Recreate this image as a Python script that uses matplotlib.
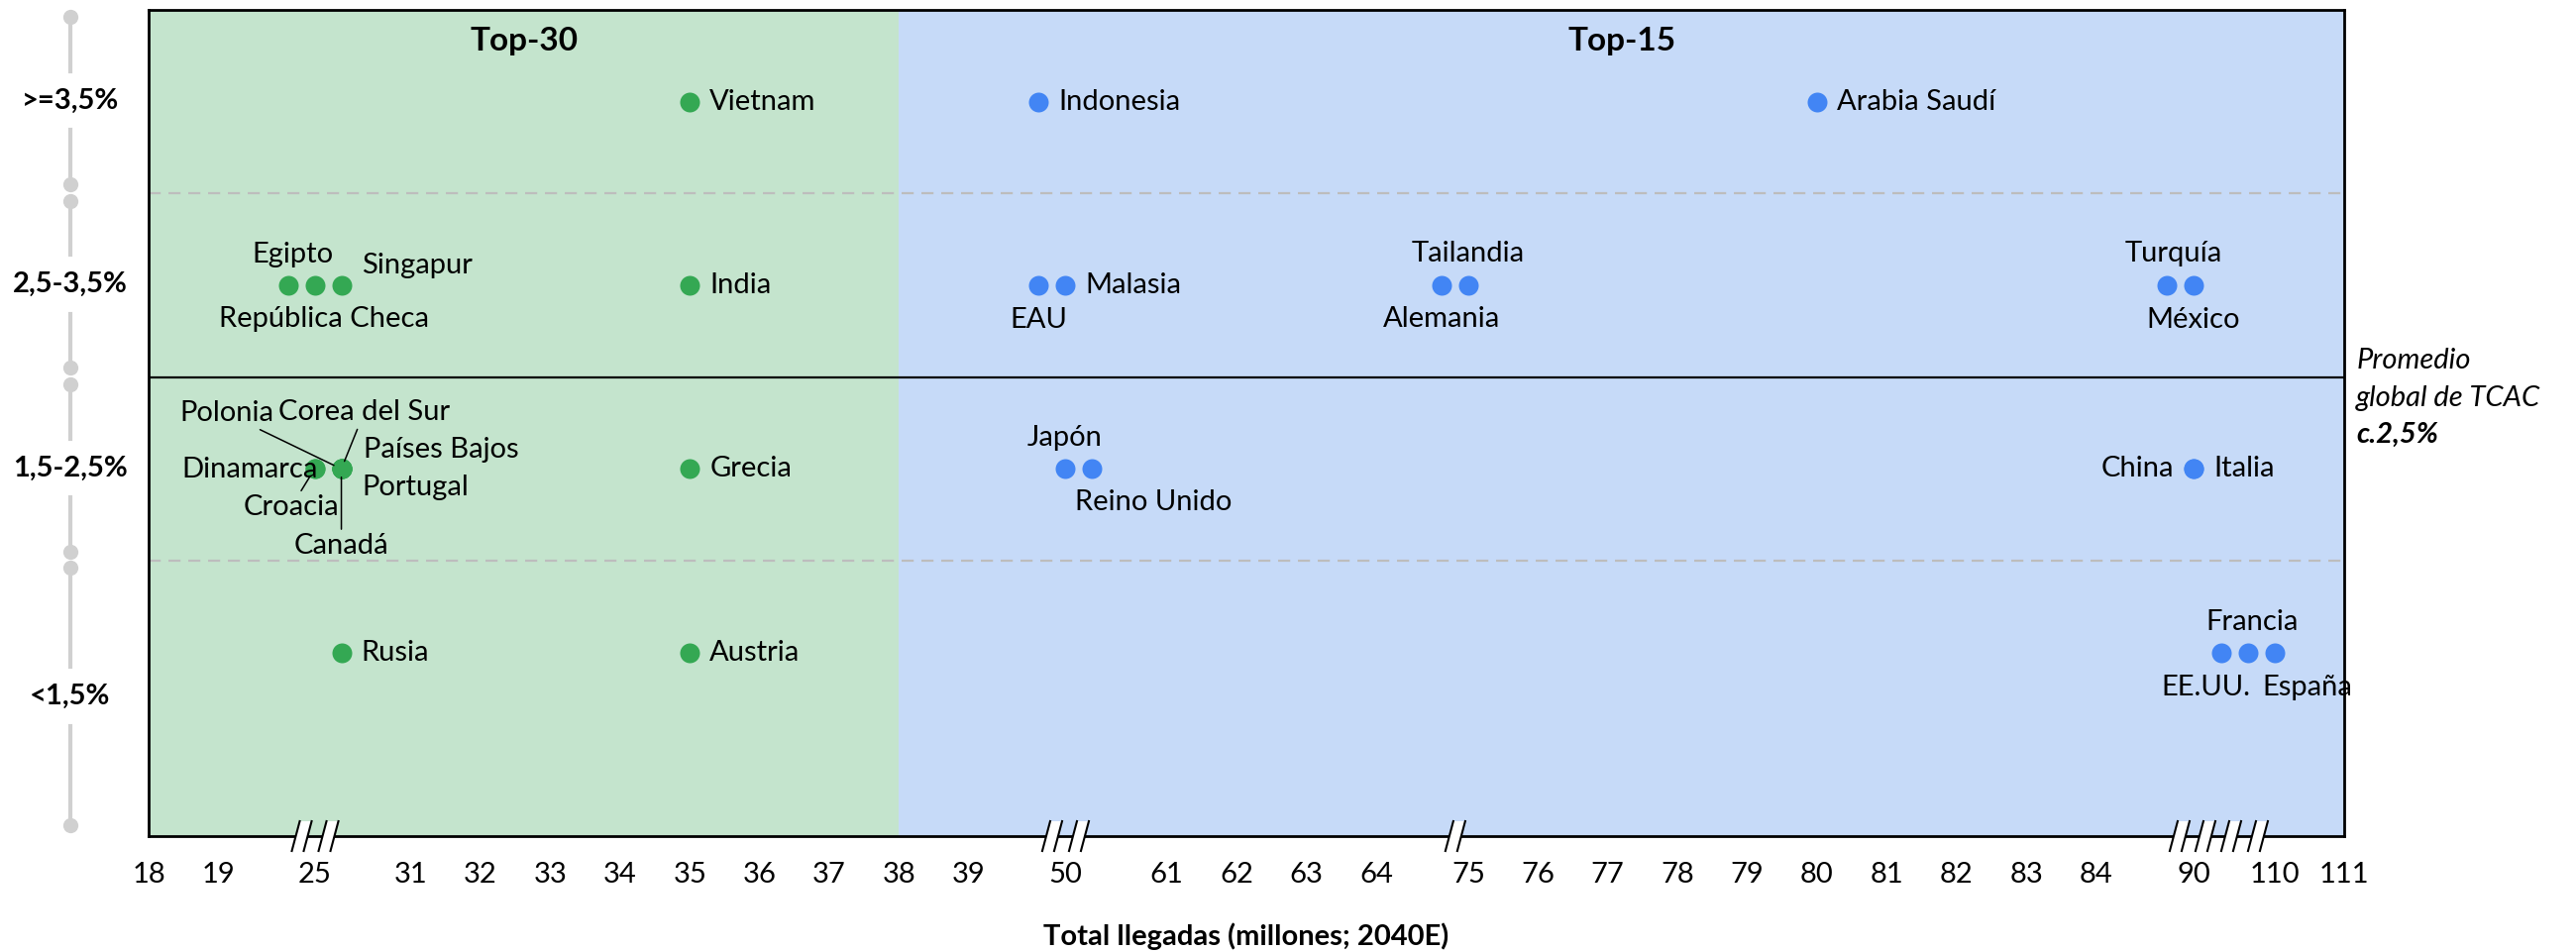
import matplotlib.pyplot as plt
import numpy as np
from matplotlib.patches import Polygon
from matplotlib.lines import Line2D
from matplotlib.transforms import ScaledTranslation, IdentityTransform, blended_transform_factory

plt.rcParams['font.family'] = ['Lato', 'DejaVu Sans']

# x axis: total arrivals (millions, 2040E), broken between non-consecutive ticks
tick_values = [18, 19, 25, 31, 32, 33, 34, 35, 36, 37, 38, 39, 50, 61, 62, 63, 64,
               75, 76, 77, 78, 79, 80, 81, 82, 83, 84, 90, 110, 111]
# CAGR bands, bottom to top
band_labels = ['<1,5%', '1,5-2,5%', '2,5-3,5%', '>=3,5%']

countries = ['Vietnam', 'Indonesia', 'Arabia Saudí',
             'Egipto', 'República Checa', 'Singapur', 'India', 'EAU', 'Malasia',
             'Alemania', 'Tailandia', 'Turquía', 'México',
             'Dinamarca', 'Croacia', 'Polonia', 'Corea del Sur', 'Países Bajos',
             'Portugal', 'Canadá', 'Grecia', 'Japón', 'Reino Unido', 'China', 'Italia',
             'Rusia', 'Austria', 'EE.UU.', 'Francia', 'España']
arrivals = [35, 50, 80,
            25, 25, 25, 35, 50, 50,
            75, 75, 90, 90,
            25, 25, 25, 25, 25,
            25, 25, 35, 50, 50, 90, 90,
            25, 35, 110, 110, 110]
band = [3, 3, 3,
        2, 2, 2, 2, 2, 2,
        2, 2, 2, 2,
        1, 1, 1, 1, 1,
        1, 1, 1, 1, 1, 1, 1,
        0, 0, 0, 0, 0]
top_split = 38  # Top-30 | Top-15

# dodge slot of each dot and its label offset in pixels (dx, dy, ha, leader line)
R = (20, 0, 'left', False)
layout = {
    'Vietnam': (0, R), 'Indonesia': (-1, R), 'Arabia Saudí': (0, R),
    'Egipto': (-1, (5, 31, 'center', False)),
    'República Checa': (0, (9, -34, 'center', False)),
    'Singapur': (1, (20, 20, 'left', False)),
    'India': (0, R),
    'EAU': (-1, (0, -35, 'center', False)),
    'Malasia': (0, R),
    'Alemania': (-1, (0, -34, 'center', False)),
    'Tailandia': (0, (0, 32, 'center', False)),
    'Turquía': (-1, (7, 32, 'center', False)),
    'México': (0, (0, -35, 'center', False)),
    'Dinamarca': (0, (3, -1, 'right', False)),
    'Croacia': (0, (-24, -39, 'center', True)),
    'Polonia': (1, (-116, 56, 'center', True)),
    'Corea del Sur': (1, (23, 57, 'center', True)),
    'Países Bajos': (1, (22, 19, 'left', False)),
    'Portugal': (1, (21, -19, 'left', False)),
    'Canadá': (1, (0, -78, 'center', True)),
    'Grecia': (0, R),
    'Japón': (0, (0, 31, 'center', False)),
    'Reino Unido': (1, (62, -34, 'center', False)),
    'China': (0, (-20, 0, 'right', False)),
    'Italia': (0, R),
    'Rusia': (1, R), 'Austria': (0, R),
    'EE.UU.': (-2, (-15, -35, 'center', False)),
    'Francia': (-1, (4, 31, 'center', False)),
    'España': (0, (33, -35, 'center', False)),
}

GREEN_BG, BLUE_BG = '#c4e4cd', '#c6daf8'
GREEN, BLUE = '#34a853', '#4285f4'
FS = 21
PX = 100 / 72  # pixels per point
SLOT = 27      # pixel step between dodged dots

# broken-axis scale: unit step between consecutive ticks, wider gaps at breaks
break_widths = {19: 1.38, 25: 1.38, 39: 1.38, 50: 1.46, 64: 1.32, 84: 1.40, 90: 1.16}
tick_pos = [0.0]
for a, b in zip(tick_values[:-1], tick_values[1:]):
    tick_pos.append(tick_pos[-1] + (1.0 if b - a == 1 else break_widths[a]))


def fwd(v):
    return np.interp(v, tick_values, tick_pos)


def inv(p):
    return np.interp(p, tick_pos, tick_values)


fig = plt.figure(figsize=(26, 9.61), dpi=100)
ax = fig.add_axes([150 / 2600, 1 - 844 / 961, 2216 / 2600, 834 / 961])
ax.set_xscale('function', functions=(fwd, inv))
ax.set_xlim(18, 111)
ax.set_ylim(-0.5, 4)

ax.axvspan(18, top_split, color=GREEN_BG, lw=0, zorder=0)
ax.axvspan(top_split, 111, color=BLUE_BG, lw=0, zorder=0)
for y in (3, 1):
    ax.axhline(y, color='#bdbdbd', lw=1.6, ls=(0, (5.5, 3.5)), zorder=1)
ax.axhline(2, color='black', lw=1.6, zorder=1)

# dots and labels
for name, v, b in zip(countries, arrivals, band):
    slot, (dx, dy, ha, leader) = layout[name]
    y = b + 0.5
    trans = ax.transData + ScaledTranslation(slot * SLOT / 100, 0, fig.dpi_scale_trans)
    col = GREEN if v < top_split else BLUE
    ax.plot(v, y, 'o', ms=14.4, color=col, mec='none', transform=trans, zorder=3)
    arrow = dict(arrowstyle='-', color='black', lw=1.1, shrinkA=1, shrinkB=6) if leader else None
    ax.annotate(name, xy=(v, y), xycoords=trans, xytext=(dx / PX, dy / PX),
                textcoords='offset points', ha=ha, va='center', fontsize=FS,
                arrowprops=arrow, zorder=4)

# group titles
for lo, hi, title in ((18, top_split, 'Top-30'), (top_split, 111, 'Top-15')):
    ax.text(inv((fwd(lo) + fwd(hi)) / 2), 3.83, title, ha='center', va='center',
            fontsize=24, fontweight='bold')

# band brackets on the left
edges = [-0.5, 1, 2, 3, 4]
left = blended_transform_factory(ax.transAxes, ax.transData)
bx = -0.0357
for i, lab in enumerate(band_labels):
    top = edges[i + 1] - 0.04
    bot = edges[i] + 0.05 if i else edges[i] + 0.06
    mid = (top + bot) / 2
    gap = 0.16
    for y0, y1 in ((top, mid + gap), (mid - gap, bot)):
        ax.add_line(Line2D([bx, bx], [y0, y1], transform=left, color='#d0d0d0',
                           lw=3, clip_on=False))
    ax.plot([bx, bx], [top, bot], 'o', ms=11, color='#d0d0d0', mec='none',
            transform=left, clip_on=False)
    ax.text(bx, mid, lab, transform=left, ha='center', va='center',
            fontsize=FS, fontweight='bold')

# note for the global average line
ax.text(1.0055, 2.09, 'Promedio', transform=left, ha='left', va='center',
        fontsize=FS, style='italic')
ax.text(1.0055, 1.885, 'global de TCAC', transform=left, ha='left', va='center',
        fontsize=FS, style='italic')
ax.text(1.0055, 1.685, 'c.2,5%', transform=left, ha='left', va='center',
        fontsize=FS, style='italic', fontweight='bold')

ax.set_xticks(tick_values)
ax.set_xticklabels([str(t) for t in tick_values], fontsize=FS)
ax.xaxis.set_minor_locator(plt.NullLocator())
ax.tick_params(axis='x', length=0, pad=19)
ax.set_yticks([])
ax.set_xlabel('Total llegadas (millones; 2040E)', fontsize=FS, fontweight='bold')
ax.xaxis.set_label_coords(0.5, -0.121)
ax.xaxis.label.set_va('center')
for s in ax.spines.values():
    s.set_color('black')
    s.set_linewidth(2)

# axis break marks on the bottom spine: (tick, pixel offset of the pair)
breaks = [(25, -13), (25, 14), (50, -13), (50, 14), (75, -13),
          (90, -14), (90, 12), (90, 38), (90, 65)]
for t, off in breaks:
    cx, cy = ax.transData.transform((t, -0.5))
    cx += off
    h, s, w = 15, 4, 6
    ax.add_patch(Polygon([(cx - w - s, cy - h), (cx + w - s, cy - h),
                          (cx + w + s, cy + h), (cx - w + s, cy + h)],
                         closed=True, fc='white', ec='none',
                         transform=IdentityTransform(), clip_on=False, zorder=5))
    for sx in (-w, w):
        ax.add_line(Line2D([cx + sx - s, cx + sx + s], [cy - h, cy + h], color='black',
                           lw=1.5, transform=IdentityTransform(), clip_on=False, zorder=6))

fig.savefig('out.png', dpi=100)
